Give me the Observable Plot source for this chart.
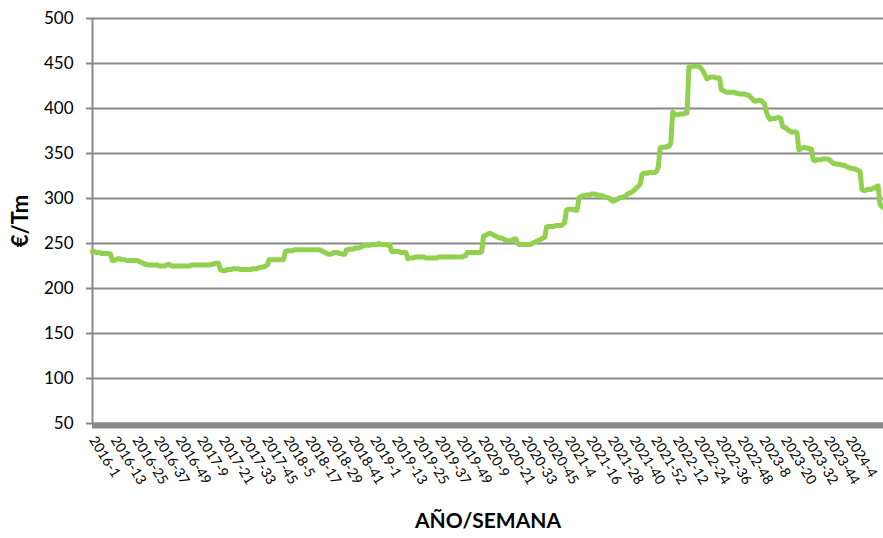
<!DOCTYPE html>
<html>
<head>
<meta charset="utf-8">
<script src="https://cdn.jsdelivr.net/npm/d3@7"></script>
<script src="https://cdn.jsdelivr.net/npm/@observablehq/plot@0.6"></script>
<style>
  html, body { margin: 0; padding: 0; background: #fff; }
  #chart { width: 883px; height: 538px; }
</style>
</head>
<body>
<div id="chart"></div>
<script>
// Weeks per year covered by the series (2024 partial)
const years = [2016, 2017, 2018, 2019, 2020, 2021, 2022, 2023, 2024];
const weeksInYear = [52, 52, 52, 52, 53, 52, 52, 52, 23];

// Weekly price, €/Tm (one row = 12 weeks)
const prices = [
  241,241,240,240,240,239,239,239,239,239,238,231,
  231,232,233,233,232,232,232,231,231,231,231,231,
  231,231,230,229,228,227,227,226,226,226,226,226,
  226,225,225,225,225,226,227,226,225,225,225,225,
  225,225,225,225,225,225,225,226,226,226,226,226,
  226,226,226,226,226,226,227,227,228,228,228,221,
  220,220,220,221,221,221,222,222,222,222,221,221,
  221,221,221,221,221,222,222,222,223,223,224,224,
  225,226,232,232,232,232,232,232,232,232,232,241,
  242,242,242,242,243,243,243,243,243,243,243,243,
  243,243,243,243,243,243,243,242,241,240,239,238,
  238,239,240,240,240,239,239,238,238,243,243,244,
  244,244,245,245,245,246,247,248,248,248,248,249,
  249,249,249,250,249,249,249,249,248,248,241,241,
  241,241,241,240,240,240,240,233,234,234,234,235,
  235,235,235,235,235,234,234,234,234,234,234,234,
  235,235,235,235,235,235,235,235,235,235,235,235,
  235,235,236,236,240,240,240,240,240,240,240,240,
  241,258,259,260,261,261,260,259,258,257,256,256,
  255,254,253,253,253,254,255,255,250,249,249,249,
  249,249,249,249,250,251,252,253,254,255,256,257,
  268,269,269,269,269,270,270,270,270,271,273,287,
  288,288,288,288,287,287,301,302,303,303,304,304,
  304,305,305,305,304,304,303,303,302,301,301,300,
  298,297,298,299,300,301,301,302,303,305,306,307,
  308,310,312,314,316,327,328,328,328,329,329,329,
  329,330,335,356,357,357,357,358,358,362,396,394,
  393,393,394,394,394,395,395,446,446,447,447,447,
  447,446,444,441,437,433,434,435,435,435,434,434,
  434,421,420,419,418,418,418,418,418,417,417,416,
  416,416,416,415,415,413,411,409,408,409,409,409,
  407,405,396,391,388,389,389,389,390,390,389,380,
  379,378,376,375,374,374,374,373,354,355,356,357,
  356,356,355,355,343,342,343,343,343,344,344,344,
  344,343,341,339,339,338,338,338,337,337,336,335,
  334,334,333,333,332,331,330,310,309,309,310,310,
  310,311,312,313,314,294,291,290
];

const yTicks = [50, 100, 150, 200, 250, 300, 350, 400, 450, 500];
const xTickLabels = [
  "2016-1","2016-13","2016-25","2016-37","2016-49",
  "2017-9","2017-21","2017-33","2017-45",
  "2018-5","2018-17","2018-29","2018-41",
  "2019-1","2019-13","2019-25","2019-37","2019-49",
  "2020-9","2020-21","2020-33","2020-45",
  "2021-4","2021-16","2021-28","2021-40","2021-52",
  "2022-12","2022-24","2022-36","2022-48",
  "2023-8","2023-20","2023-32","2023-44",
  "2024-4"
];
const yTitle = "€/Tm";
const xTitle = "AÑO/SEMANA";

// Category labels "AAAA-S"
const weekLabels = [];
years.forEach((y, i) => {
  for (let w = 1; w <= weeksInYear[i]; w++) weekLabels.push(`${y}-${w}`);
});

const data = prices.map((v, i) => ({week: weekLabels[i], value: v}));

const gray = "#898989";
const chart = Plot.plot({
  width: 883,
  height: 538,
  marginLeft: 92,
  marginRight: 0,
  marginTop: 18,
  marginBottom: 115,
  style: {fontFamily: "Lato, 'Open Sans', sans-serif", color: "#000", background: "#fff"},
  x: {type: "point", domain: weekLabels, padding: 0},
  y: {domain: [50, 500]},
  marks: [
    Plot.gridY(yTicks, {stroke: gray, strokeOpacity: 1, strokeWidth: 2}),
    Plot.ruleY([50], {stroke: gray, strokeWidth: 6, dy: 2}),
    Plot.ruleX([weekLabels[0]], {stroke: gray, strokeWidth: 2}),
    Plot.axisY(yTicks, {tickSize: 6, tickPadding: 13, stroke: gray, strokeWidth: 2, fontSize: 17, label: null}),
    Plot.axisX(xTickLabels, {tickSize: 0, tickPadding: 14, tickRotate: 58, fontSize: 14, label: null}),
    Plot.line(data, {x: "week", y: "value", stroke: "#92D050", strokeWidth: 5, strokeLinejoin: "round", strokeLinecap: "round"}),
    Plot.text([yTitle], {frameAnchor: "left", textAnchor: "middle", dx: -72, rotate: -90, fontSize: 22, fontWeight: "bold"}),
    Plot.text([xTitle], {frameAnchor: "bottom", lineAnchor: "middle", dy: 98, fontSize: 21, fontWeight: "bold"})
  ]
});
document.getElementById("chart").append(chart);
</script>
</body>
</html>
